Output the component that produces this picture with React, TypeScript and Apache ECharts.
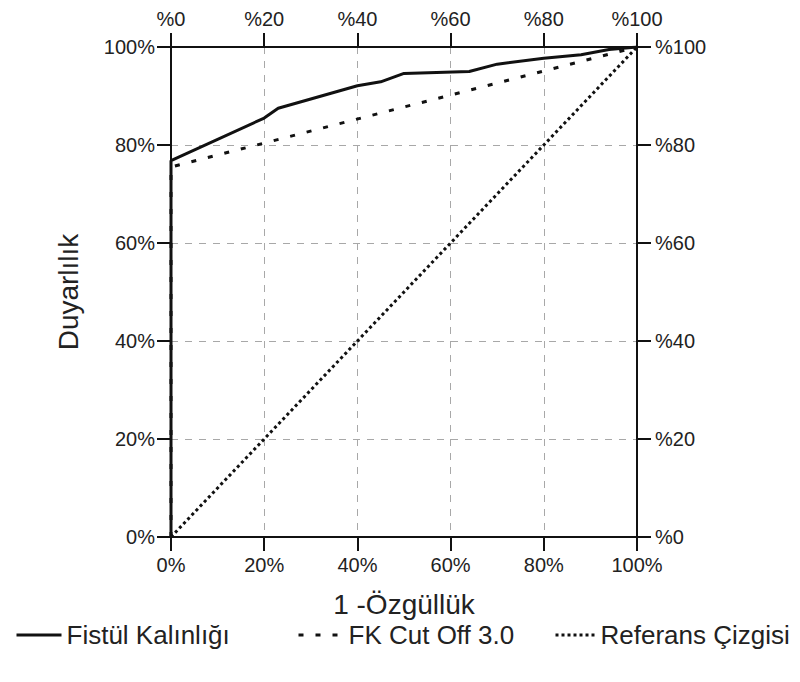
import React, { useEffect, useRef } from "react";
import * as echarts from "echarts";

const tickValues = [0, 0.2, 0.4, 0.6, 0.8, 1];
const fistulX = [0, 0, 0.2, 0.23, 0.3, 0.4, 0.45, 0.5, 0.64, 0.7, 0.8, 0.88, 0.94, 1];
const fistulY = [0, 0.768, 0.855, 0.875, 0.894, 0.921, 0.929, 0.946, 0.95, 0.965, 0.977, 0.984, 0.995, 1];
const cutoffX = [0, 0, 1];
const cutoffY = [0, 0.755, 1];
const refX = [0, 1];
const refY = [0, 1];
const seriesNames = ["Fistül Kalınlığı", "FK Cut Off 3.0", "Referans Çizgisi"];

const FONT = "'Liberation Sans', Arial, sans-serif";

const pct = (v: number) => Math.round(v * 100);

export default function App() {
  const ref = useRef<HTMLDivElement>(null);
  useEffect(() => {
    if (!ref.current) return;
    const chart = echarts.init(ref.current, undefined, { renderer: "svg" });
    const axisCommon = {
      type: "value",
      min: tickValues[0],
      max: tickValues[tickValues.length - 1],
      interval: 0.2,
      axisLine: { show: true, onZero: false, lineStyle: { color: "#111", width: 2 } },
      axisTick: { show: true, inside: false, length: 14, lineStyle: { color: "#111", width: 2 } },
    };
    const labelStyle = { color: "#222", fontSize: 20, fontFamily: FONT };
    const grid = { show: true, lineStyle: { color: "#a8a8a8", type: [7, 7], width: 1 } };
    const zip = (xs: number[], ys: number[]) => xs.map((x, i) => [x, ys[i]]);
    const option = {
      animation: false,
      backgroundColor: "#fff",
      grid: { left: 171, right: 163, top: 47, bottom: 145, containLabel: false },
      xAxis: [
        {
          ...axisCommon,
          position: "bottom",
          splitLine: grid,
          axisLabel: { ...labelStyle, margin: 18, formatter: (v: number) => `${pct(v)}%` },
          name: "1 -Özgüllük",
          nameLocation: "middle",
          nameGap: 53,
          nameTextStyle: { color: "#222", fontSize: 28, fontFamily: FONT },
        },
        {
          ...axisCommon,
          position: "top",
          splitLine: { show: false },
          axisLabel: { ...labelStyle, margin: 18, formatter: (v: number) => `%${pct(v)}` },
        },
      ],
      yAxis: [
        {
          ...axisCommon,
          position: "left",
          splitLine: grid,
          axisLabel: { ...labelStyle, margin: 16, formatter: (v: number) => `${pct(v)}%` },
          name: "Duyarlılık",
          nameLocation: "middle",
          nameGap: 89,
          nameTextStyle: { color: "#222", fontSize: 28, fontFamily: FONT },
        },
        {
          ...axisCommon,
          position: "right",
          splitLine: { show: false },
          axisLabel: { ...labelStyle, margin: 18, formatter: (v: number) => `%${pct(v)}` },
        },
      ],
      legend: [
        { data: [seriesNames[0]], left: 15, itemWidth: 45 },
        { data: [seriesNames[1]], left: 297, itemWidth: 45 },
        { data: [seriesNames[2]], left: 554, itemWidth: 40 },
      ].map((l) => ({
        ...l,
        top: 622,
        padding: 0,
        itemHeight: 28,
        itemGap: 0,
        itemStyle: { color: "transparent", borderColor: "transparent", borderWidth: 0, opacity: 0 },
        lineStyle: { width: 3 },
        textStyle: { color: "#222", fontSize: 26, fontFamily: FONT },
      })),
      series: [
        {
          name: seriesNames[0],
          type: "line",
          data: zip(fistulX, fistulY),
          symbol: "none",
          lineStyle: { color: "#111", width: 3, type: "solid" },
          itemStyle: { color: "#111" },
          z: 4,
        },
        {
          name: seriesNames[1],
          type: "line",
          data: zip(cutoffX, cutoffY),
          symbol: "none",
          lineStyle: { color: "#111", width: 3, type: [5, 12] },
          itemStyle: { color: "#111" },
          z: 3,
        },
        {
          name: seriesNames[2],
          type: "line",
          data: zip(refX, refY),
          symbol: "none",
          lineStyle: { color: "#111", width: 3, type: [3, 3] },
          itemStyle: { color: "#111" },
          z: 2,
        },
      ],
    };
    chart.setOption(option as any);
    return () => chart.dispose();
  }, []);
  return <div ref={ref} style={{ width: 800, height: 682, margin: -8 }} />;
}
